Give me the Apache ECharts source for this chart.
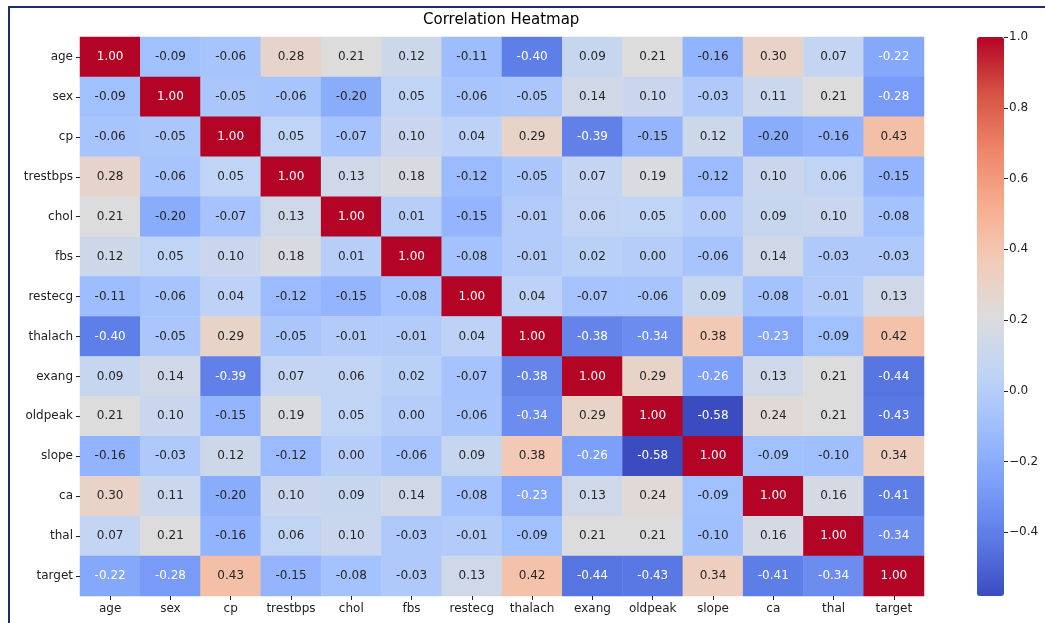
<!DOCTYPE html>
<html>
<head>
<meta charset="utf-8">
<script src="https://cdn.jsdelivr.net/npm/echarts@6/dist/echarts.min.js"></script>
<style>
  html, body { margin: 0; padding: 0; background: #fff; }
  #chart { width: 1045px; height: 623px; }
</style>
</head>
<body>
<div id="chart"></div>
<script>
  // column / row names
  var features = ['age', 'sex', 'cp', 'trestbps', 'chol', 'fbs', 'restecg', 'thalach',
    'exang', 'oldpeak', 'slope', 'ca', 'thal', 'target']

  // correlation rows, same order as features
  var ageRow      = [1.00, -0.09, -0.06, 0.28, 0.21, 0.12, -0.11, -0.40, 0.09, 0.21, -0.16, 0.30, 0.07, -0.22]
  var sexRow      = [-0.09, 1.00, -0.05, -0.06, -0.20, 0.05, -0.06, -0.05, 0.14, 0.10, -0.03, 0.11, 0.21, -0.28]
  var cpRow       = [-0.06, -0.05, 1.00, 0.05, -0.07, 0.10, 0.04, 0.29, -0.39, -0.15, 0.12, -0.20, -0.16, 0.43]
  var trestbpsRow = [0.28, -0.06, 0.05, 1.00, 0.13, 0.18, -0.12, -0.05, 0.07, 0.19, -0.12, 0.10, 0.06, -0.15]
  var cholRow     = [0.21, -0.20, -0.07, 0.13, 1.00, 0.01, -0.15, -0.01, 0.06, 0.05, 0.00, 0.09, 0.10, -0.08]
  var fbsRow      = [0.12, 0.05, 0.10, 0.18, 0.01, 1.00, -0.08, -0.01, 0.02, 0.00, -0.06, 0.14, -0.03, -0.03]
  var restecgRow  = [-0.11, -0.06, 0.04, -0.12, -0.15, -0.08, 1.00, 0.04, -0.07, -0.06, 0.09, -0.08, -0.01, 0.13]
  var thalachRow  = [-0.40, -0.05, 0.29, -0.05, -0.01, -0.01, 0.04, 1.00, -0.38, -0.34, 0.38, -0.23, -0.09, 0.42]
  var exangRow    = [0.09, 0.14, -0.39, 0.07, 0.06, 0.02, -0.07, -0.38, 1.00, 0.29, -0.26, 0.13, 0.21, -0.44]
  var oldpeakRow  = [0.21, 0.10, -0.15, 0.19, 0.05, 0.00, -0.06, -0.34, 0.29, 1.00, -0.58, 0.24, 0.21, -0.43]
  var slopeRow    = [-0.16, -0.03, 0.12, -0.12, 0.00, -0.06, 0.09, 0.38, -0.26, -0.58, 1.00, -0.09, -0.10, 0.34]
  var caRow       = [0.30, 0.11, -0.20, 0.10, 0.09, 0.14, -0.08, -0.23, 0.13, 0.24, -0.09, 1.00, 0.16, -0.41]
  var thalRow     = [0.07, 0.21, -0.16, 0.06, 0.10, -0.03, -0.01, -0.09, 0.21, 0.21, -0.10, 0.16, 1.00, -0.34]
  var targetRow   = [-0.22, -0.28, 0.43, -0.15, -0.08, -0.03, 0.13, 0.42, -0.44, -0.43, 0.34, -0.41, -0.34, 1.00]

  var rows = [ageRow, sexRow, cpRow, trestbpsRow, cholRow, fbsRow, restecgRow, thalachRow,
    exangRow, oldpeakRow, slopeRow, caRow, thalRow, targetRow]

  var colorbarTicks = [-0.4, -0.2, 0.0, 0.2, 0.4, 0.6, 0.8, 1.0]
  var vmin = -0.58
  var vmax = 1.0

  // matplotlib coolwarm, 11 stops
  var coolwarm = ['#3b4cc0', '#5b7ae5', '#7b9ff9', '#9ebeff', '#c0d4f5', '#dddcdc',
    '#f2cbb7', '#f7ac8e', '#ee8468', '#d65244', '#b40426']

  function hexRgb (h) {
    return [parseInt(h.substr(1, 2), 16), parseInt(h.substr(3, 2), 16), parseInt(h.substr(5, 2), 16)]
  }
  function cmap (v) {
    var t = Math.min(1, Math.max(0, (v - vmin) / (vmax - vmin))) * (coolwarm.length - 1)
    var i = Math.min(coolwarm.length - 2, Math.floor(t))
    var f = t - i
    var a = hexRgb(coolwarm[i]), b = hexRgb(coolwarm[i + 1])
    return [0, 1, 2].map(function (k) { return a[k] + (b[k] - a[k]) * f })
  }
  // seaborn picks the annotation colour from the cell luminance
  function textColor (v) {
    var c = cmap(v).map(function (x) {
      x = x / 255
      return x <= 0.03928 ? x / 12.92 : Math.pow((x + 0.055) / 1.055, 2.4)
    })
    var lum = 0.2126 * c[0] + 0.7152 * c[1] + 0.0722 * c[2]
    return lum > 0.408 ? 'rgb(38,38,38)' : '#ffffff'
  }

  var cells = []
  rows.forEach(function (row, y) {
    row.forEach(function (v, x) {
      cells.push({ value: [x, y, v], label: { color: textColor(v) } })
    })
  })

  var font = 'DejaVu Sans'
  var ink = 'rgb(34,34,34)'
  var tickStyle = { color: ink, width: 1 }

  var chart = echarts.init(document.getElementById('chart'))
  chart.setOption({
    animation: false,
    title: {
      text: 'Correlation Heatmap',
      left: 423,
      top: 13,
      padding: 0,
      textStyle: { fontFamily: font, fontSize: 15, fontWeight: 'normal', color: '#000' }
    },
    // frame around the figure (left and top edges are visible)
    graphic: [{
      type: 'polyline',
      shape: { points: [[9, 640], [9, 7], [1060, 7]] },
      style: { stroke: '#1c2f6b', lineWidth: 2, fill: null },
      silent: true
    }],
    grid: [
      { left: 80, right: 121, top: 37, bottom: 27 },
      { left: 977, width: 27, top: 37, height: 559 },
      // same box as the heatmap, only used to draw the tick marks
      { left: 80, right: 121, top: 37, bottom: 27 }
    ],
    xAxis: [{
      type: 'category',
      data: features,
      axisLine: { show: false },
      axisTick: { show: false },
      axisLabel: { interval: 0, fontFamily: font, fontSize: 12, color: ink, margin: 7 }
    }, {
      type: 'value',
      gridIndex: 1,
      show: false
    }, {
      type: 'category',
      gridIndex: 2,
      data: features,
      z: 10,
      axisLine: { show: false },
      axisTick: { show: true, alignWithLabel: true, interval: 0, length: 4, lineStyle: tickStyle },
      axisLabel: { show: false, interval: 0 }
    }],
    yAxis: [{
      type: 'category',
      data: features,
      inverse: true,
      axisLine: { show: false },
      axisTick: { show: false },
      axisLabel: { interval: 0, fontFamily: font, fontSize: 12, color: ink, margin: 7 }
    }, {
      type: 'value',
      gridIndex: 1,
      position: 'right',
      z: 10,
      min: vmin,
      max: vmax,
      axisLine: { show: false, onZero: false },
      splitLine: { show: false },
      axisTick: { show: true, length: 4, customValues: colorbarTicks, lineStyle: tickStyle },
      axisLabel: {
        fontFamily: font,
        fontSize: 12,
        color: ink,
        margin: 5,
        customValues: colorbarTicks,
        formatter: function (v) { return v.toFixed(1).replace('-', '\u2212') }
      }
    }, {
      type: 'category',
      gridIndex: 2,
      data: features,
      inverse: true,
      z: 10,
      axisLine: { show: false },
      axisTick: { show: true, alignWithLabel: true, interval: 0, length: 4, lineStyle: tickStyle },
      axisLabel: { show: false, interval: 0 }
    }],
    visualMap: {
      type: 'continuous',
      min: vmin,
      max: vmax,
      dimension: 2,
      seriesIndex: 0,
      orient: 'vertical',
      left: 977,
      top: 37,
      padding: 0,
      itemWidth: 27,
      itemHeight: 559,
      calculable: false,
      hoverLink: false,
      text: null,
      inRange: { color: coolwarm }
    },
    series: [{
      type: 'heatmap',
      data: cells,
      label: {
        show: true,
        fontFamily: font,
        fontSize: 12,
        formatter: function (p) { return p.value[2].toFixed(2) }
      },
      itemStyle: { borderWidth: 0 },
      emphasis: { disabled: true }
    }]
  })
</script>
</body>
</html>
